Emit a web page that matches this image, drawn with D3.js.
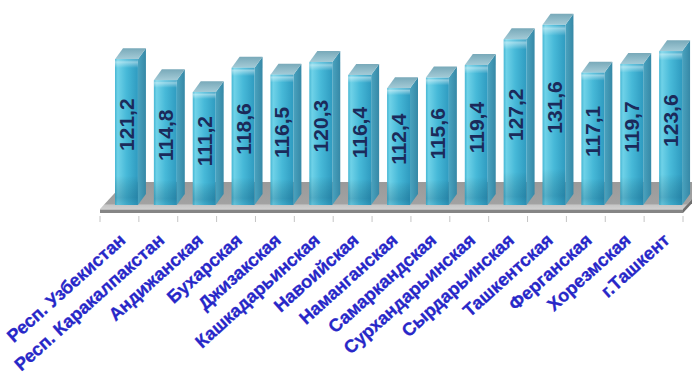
<!DOCTYPE html>
<html>
<head>
<meta charset="utf-8">
<script src="https://cdn.jsdelivr.net/npm/d3@7"></script>
<style>
  html, body { margin: 0; padding: 0; background: #ffffff; }
  svg { display: block; }
</style>
</head>
<body>
<svg id="chart" width="692" height="376"></svg>
<script>
const categories = [
  "Респ. Узбекистан", "Респ. Каракалпакстан", "Андижанская", "Бухарская",
  "Джизакская", "Кашкадарьинская", "Навоийская", "Наманганская",
  "Самаркандская", "Сурхандарьинская", "Сырдарьинская", "Ташкентская",
  "Ферганская", "Хорезмская", "г.Ташкент"
];
const values = [121.2, 114.8, 111.2, 118.6, 116.5, 120.3, 116.4, 112.4, 115.6, 119.4, 127.2, 131.6, 117.1, 119.7, 123.6];
const valueLabels = ["121,2", "114,8", "111,2", "118,6", "116,5", "120,3", "116,4", "112,4", "115,6", "119,4", "127,2", "131,6", "117,1", "119,7", "123,6"];

const svg = d3.select("#chart");

const x = d3.scaleBand().domain(categories).range([100, 683]).padding(0);
const y = d3.scaleLinear().domain([77, 132]).range([205, 23.5]);
const bw = x.bandwidth();

const defs = svg.append("defs");

const gFront = defs.append("linearGradient").attr("id", "gFront").attr("x1", 0).attr("x2", 1).attr("y1", 0).attr("y2", 0);
[["0%", "#46b6d3"], ["12%", "#6fd2e8"], ["50%", "#47b9d8"], ["100%", "#2f9bc0"]].forEach(s => gFront.append("stop").attr("offset", s[0]).attr("stop-color", s[1]));

const gShade = defs.append("linearGradient").attr("id", "gShade").attr("x1", 0).attr("x2", 0).attr("y1", 0).attr("y2", 1);
[["0%", "#ffffff", 0.0], ["2%", "#ffffff", 0.45], ["6%", "#ffffff", 0.0], ["80%", "#000000", 0.0], ["95%", "#003050", 0.22], ["100%", "#003050", 0.1]]
  .forEach(s => gShade.append("stop").attr("offset", s[0]).attr("stop-color", s[1]).attr("stop-opacity", s[2]));

const gSide = defs.append("linearGradient").attr("id", "gSide").attr("x1", 0).attr("x2", 1).attr("y1", 0).attr("y2", 0);
[["0%", "#4aa3bf"], ["100%", "#3688a6"]].forEach(s => gSide.append("stop").attr("offset", s[0]).attr("stop-color", s[1]));

const gTop = defs.append("linearGradient").attr("id", "gTop").attr("x1", 0).attr("x2", 0).attr("y1", 1).attr("y2", 0);
[["0%", "#a4cbd7"], ["100%", "#78a9b9"]].forEach(s => gTop.append("stop").attr("offset", s[0]).attr("stop-color", s[1]));

const gFloor = defs.append("linearGradient").attr("id", "gFloor").attr("gradientUnits", "userSpaceOnUse")
  .attr("x1", 0).attr("x2", 0).attr("y1", 182).attr("y2", 209);
[["0%", "#9a9a9a"], ["80%", "#a2a2a2"], ["86%", "#c6c6c6"], ["100%", "#cfcfcf"]].forEach(s => gFloor.append("stop").attr("offset", s[0]).attr("stop-color", s[1]));

// floor
const fx0 = x.range()[0], fx1 = x.range()[1];
const fy = 209, fdx = 25, fdy = 27, fth = 4;
const floor = svg.append("g");
floor.append("polygon")
  .attr("points", [[fx0, fy], [fx0 + fdx, fy - fdy], [fx1 + fdx, fy - fdy], [fx1, fy]].map(p => p.join(",")).join(" "))
  .attr("fill", "url(#gFloor)");
floor.append("rect").attr("x", fx0).attr("y", fy).attr("width", fx1 - fx0).attr("height", fth).attr("fill", "#858585");
floor.append("polygon")
  .attr("points", [[fx1, fy], [fx1 + fdx, fy - fdy], [fx1 + fdx, fy - fdy + fth], [fx1, fy + fth]].map(p => p.join(",")).join(" "))
  .attr("fill", "#6e6e6e");
floor.append("line").attr("x1", fx0).attr("x2", fx1).attr("y1", fy + 0.5).attr("y2", fy + 0.5).attr("stroke", "#bdbdbd").attr("stroke-width", 1);

// ticks
const tickPos = categories.map(c => x(c)).concat([fx1]);
svg.append("g").selectAll("line").data(tickPos).join("line")
  .attr("x1", d => d).attr("x2", d => d).attr("y1", fy + fth + 3).attr("y2", fy + fth + 9)
  .attr("stroke", "#c4c4c4").attr("stroke-width", 1);

// bars
const dx = 8, dy = 11;
const yb = y(y.domain()[0]);
const bars = svg.append("g").selectAll("g").data(values).join("g");
bars.each(function (v, i) {
  const g = d3.select(this);
  const x0 = x(categories[i]) + bw * 0.386;
  const w = bw * 0.59;
  const yt = y(v);
  g.append("polygon")
    .attr("points", [[x0 + w, yt], [x0 + w + dx, yt - dy], [x0 + w + dx, yb - dy], [x0 + w, yb]].map(p => p.join(",")).join(" "))
    .attr("fill", "url(#gSide)");
  g.append("polygon")
    .attr("points", [[x0, yt], [x0 + dx, yt - dy], [x0 + w + dx, yt - dy], [x0 + w, yt]].map(p => p.join(",")).join(" "))
    .attr("fill", "url(#gTop)");
  g.append("rect").attr("x", x0).attr("y", yt).attr("width", w).attr("height", yb - yt).attr("fill", "url(#gFront)");
  g.append("rect").attr("x", x0).attr("y", yt).attr("width", w).attr("height", yb - yt).attr("fill", "url(#gShade)");
  const cy = (yt + y(81.5)) / 2;
  g.append("text")
    .attr("transform", `translate(${x0 + w / 2},${cy}) rotate(-90)`)
    .attr("text-anchor", "middle").attr("dy", "0.36em")
    .attr("font-family", "Liberation Sans, Arial, sans-serif")
    .attr("font-weight", "bold").attr("font-size", 21)
    .attr("fill", "#1b2a5a")
    .text(valueLabels[i]);
});

// category labels
svg.append("g").selectAll("text").data(categories).join("text")
  .attr("transform", d => `translate(${x(d) + bw / 2 + 3},${237}) rotate(-42)`)
  .attr("text-anchor", "end").attr("dy", "0.35em")
  .attr("font-family", "Liberation Sans, Arial, sans-serif")
  .attr("font-weight", "bold").attr("font-size", 18)
  .attr("fill", "#2727c8")
  .attr("stroke", "#2727c8").attr("stroke-width", 0.3)
  .text(d => d);
</script>
</body>
</html>
